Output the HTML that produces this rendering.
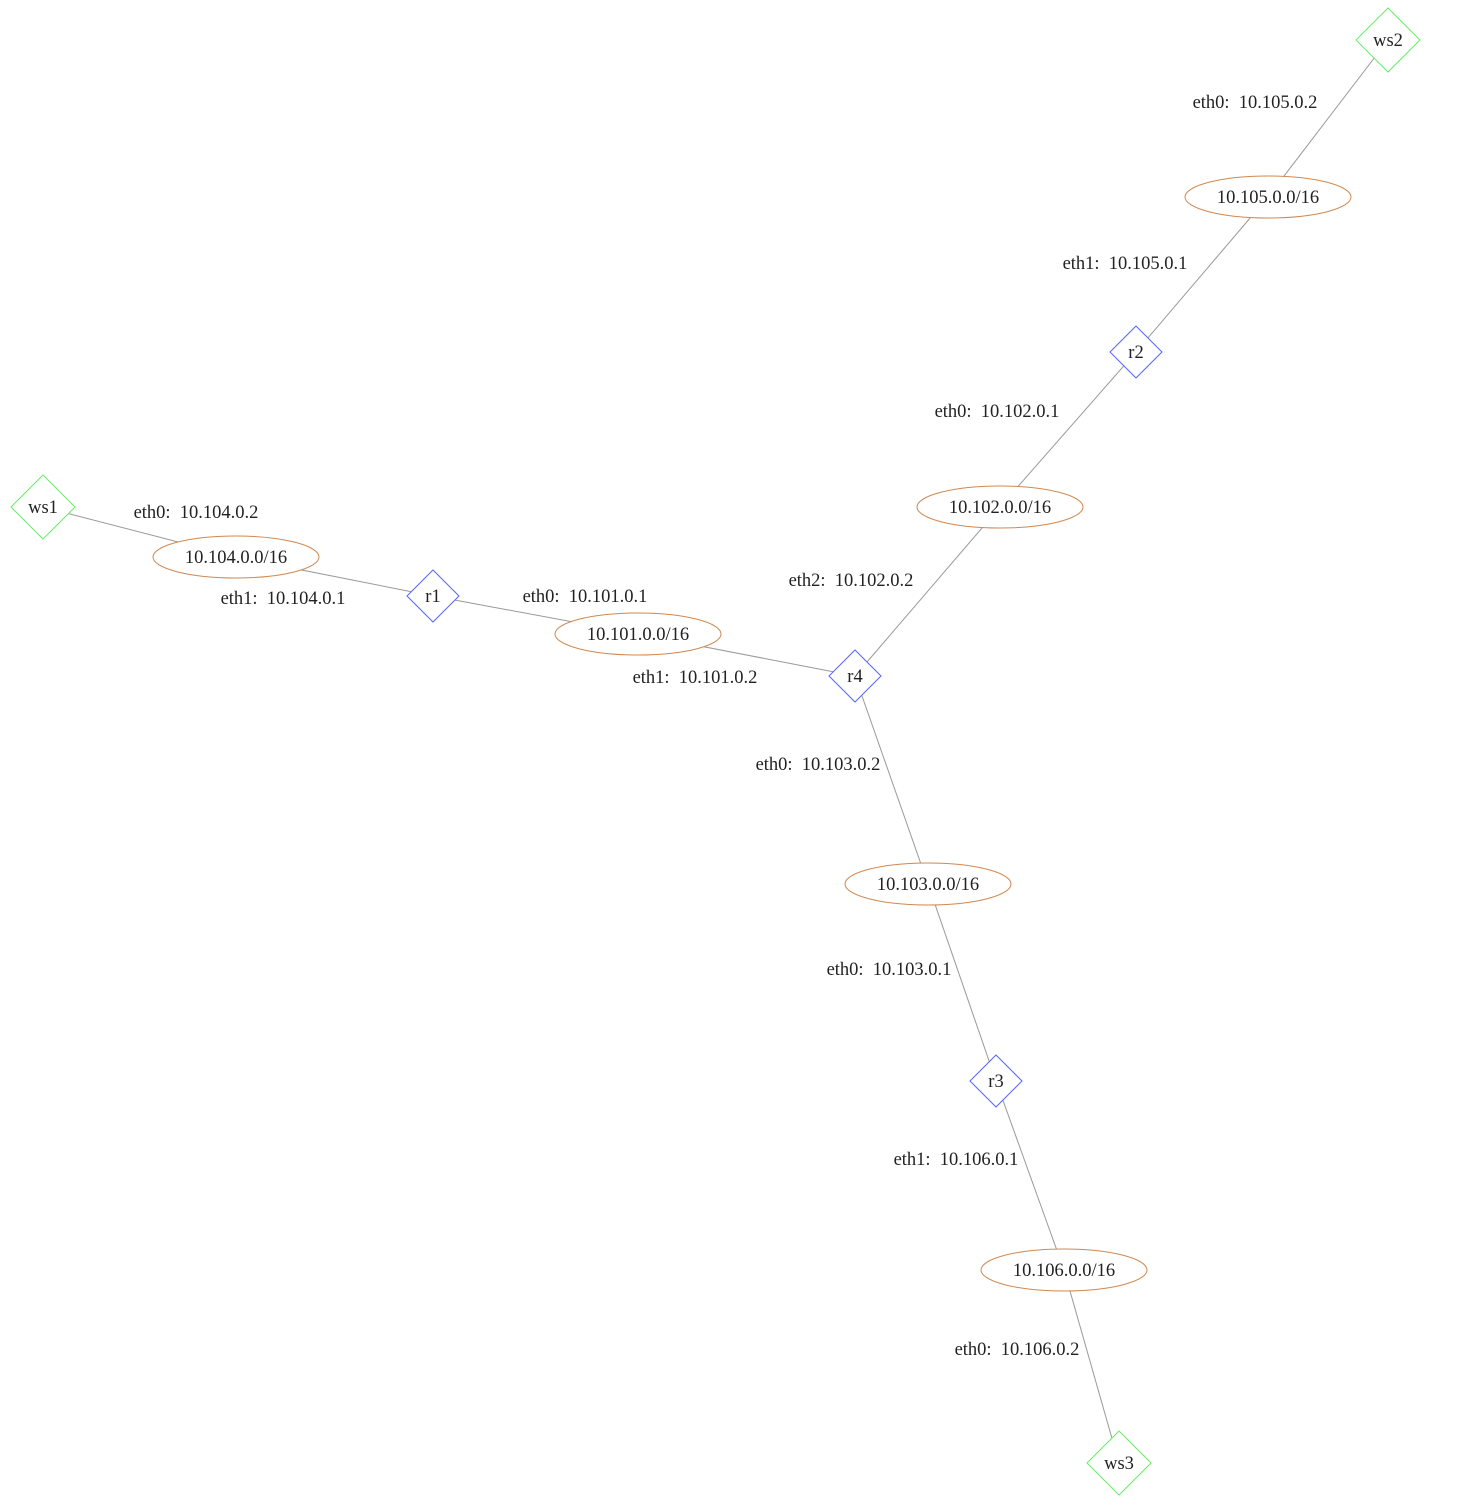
<!DOCTYPE html>
<html><head><meta charset="utf-8"><style>
html,body{margin:0;padding:0;background:#fff}
svg text{font-family:"Liberation Serif",serif;font-size:18.5px;fill:#222}
</style></head><body>
<svg width="1466" height="1500" viewBox="0 0 1466 1500" xmlns="http://www.w3.org/2000/svg">
<g stroke="#999" stroke-width="1" fill="none">
<line x1="1388" y1="40" x2="1268" y2="197"/>
<line x1="1268" y1="197" x2="1136" y2="352"/>
<line x1="1136" y1="352" x2="1000" y2="507"/>
<line x1="1000" y1="507" x2="855" y2="676"/>
<line x1="43" y1="507" x2="236" y2="557"/>
<line x1="236" y1="557" x2="433" y2="596"/>
<line x1="433" y1="596" x2="638" y2="634"/>
<line x1="638" y1="634" x2="855" y2="676"/>
<line x1="855" y1="676" x2="928" y2="884"/>
<line x1="928" y1="884" x2="996" y2="1081"/>
<line x1="996" y1="1081" x2="1064" y2="1270"/>
<line x1="1064" y1="1270" x2="1119" y2="1463"/>
</g>
<g fill="#fff" stroke="#d08850" stroke-width="1">
<ellipse cx="1268" cy="197" rx="83" ry="21"/>
<ellipse cx="1000" cy="507" rx="83" ry="21"/>
<ellipse cx="236" cy="557" rx="83" ry="21"/>
<ellipse cx="638" cy="634" rx="83" ry="21"/>
<ellipse cx="928" cy="884" rx="83" ry="21"/>
<ellipse cx="1064" cy="1270" rx="83" ry="21"/>
</g>
<g fill="#fff" stroke="#66ee66" stroke-width="1">
<polygon points="1388,8 1420,40 1388,72 1356,40"/>
<polygon points="43,475 75,507 43,539 11,507"/>
<polygon points="1119,1431 1151,1463 1119,1495 1087,1463"/>
</g>
<g fill="#fff" stroke="#5566ff" stroke-width="1">
<polygon points="1136,326 1162,352 1136,378 1110,352"/>
<polygon points="433,570 459,596 433,622 407,596"/>
<polygon points="855,650 881,676 855,702 829,676"/>
<polygon points="996,1055 1022,1081 996,1107 970,1081"/>
</g>
<g text-anchor="middle">
<text x="1388" y="46">ws2</text>
<text x="43" y="513">ws1</text>
<text x="1119" y="1469">ws3</text>
<text x="1136" y="358">r2</text>
<text x="433" y="602">r1</text>
<text x="855" y="682">r4</text>
<text x="996" y="1087">r3</text>
<text x="1268" y="203">10.105.0.0/16</text>
<text x="1000" y="513">10.102.0.0/16</text>
<text x="236" y="563">10.104.0.0/16</text>
<text x="638" y="640">10.101.0.0/16</text>
<text x="928" y="890">10.103.0.0/16</text>
<text x="1064" y="1276">10.106.0.0/16</text>
<text x="1255" y="108" xml:space="preserve">eth0:  10.105.0.2</text>
<text x="1125" y="269" xml:space="preserve">eth1:  10.105.0.1</text>
<text x="997" y="417" xml:space="preserve">eth0:  10.102.0.1</text>
<text x="196" y="518" xml:space="preserve">eth0:  10.104.0.2</text>
<text x="283" y="604" xml:space="preserve">eth1:  10.104.0.1</text>
<text x="585" y="602" xml:space="preserve">eth0:  10.101.0.1</text>
<text x="851" y="586" xml:space="preserve">eth2:  10.102.0.2</text>
<text x="695" y="683" xml:space="preserve">eth1:  10.101.0.2</text>
<text x="818" y="770" xml:space="preserve">eth0:  10.103.0.2</text>
<text x="889" y="975" xml:space="preserve">eth0:  10.103.0.1</text>
<text x="956" y="1165" xml:space="preserve">eth1:  10.106.0.1</text>
<text x="1017" y="1355" xml:space="preserve">eth0:  10.106.0.2</text>
</g>
</svg>
</body></html>
